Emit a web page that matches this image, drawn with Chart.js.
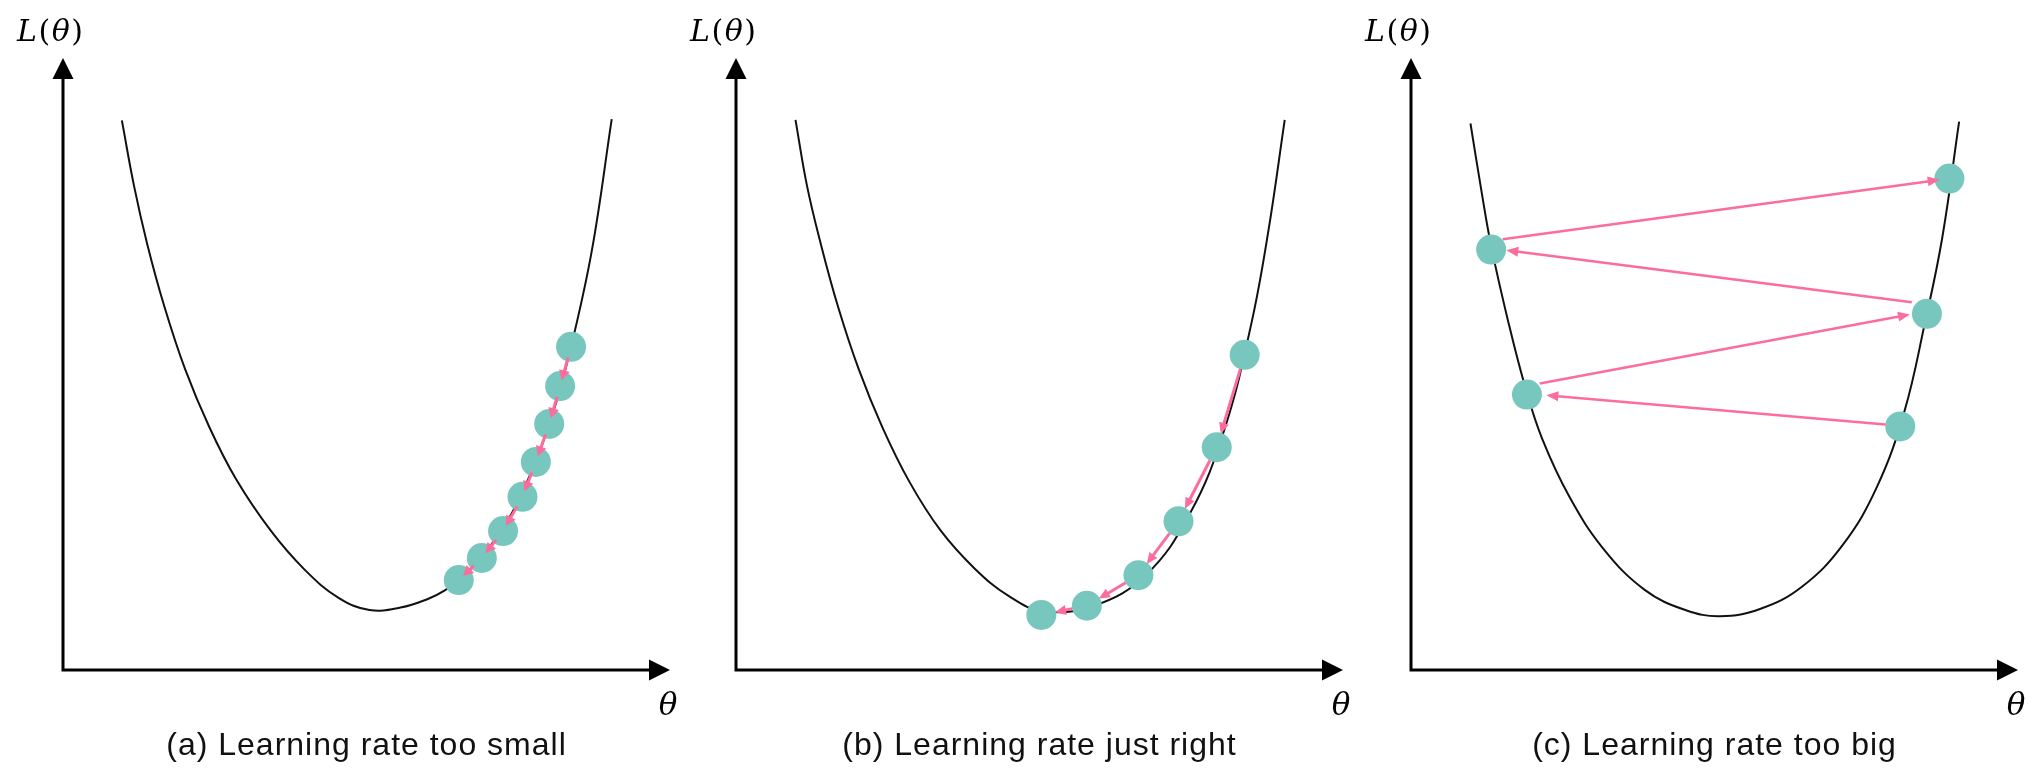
<!DOCTYPE html>
<html>
<head>
<meta charset="utf-8">
<script src="https://cdn.jsdelivr.net/npm/chart.js@4.4.1/dist/chart.umd.min.js"></script>
<style>
  body { margin: 0; background: #fff; width: 2033px; height: 771px; overflow: hidden; position: relative; }
  canvas { position: absolute; top: 0; }
</style>
</head>
<body>
<canvas id="panelA" width="685" height="771" style="left:0px"></canvas>
<canvas id="panelB" width="685" height="771" style="left:673px"></canvas>
<canvas id="panelC" width="685" height="771" style="left:1348px"></canvas>
<script>
// Loss curve samples (θ, L)
const curveThetaA = [0.97, 1.17, 1.39, 1.67, 2.01, 2.41, 2.85, 3.42, 3.98, 4.54, 5.05, 5.56, 6.01, 6.29, 6.62, 6.98, 7.36, 7.70, 8.04, 8.35, 8.71, 9.04];
const curveLossA = [8.98, 7.91, 6.95, 5.94, 4.92, 3.97, 3.12, 2.28, 1.64, 1.18, 0.98, 1.02, 1.16, 1.30, 1.55, 1.95, 2.50, 3.20, 4.10, 5.20, 6.84, 9.00];
const curveThetaB = [0.98, 1.17, 1.40, 1.68, 2.02, 2.41, 2.86, 3.37, 3.93, 4.49, 5.06, 5.90, 6.75, 7.48, 8.04, 8.49, 8.77, 9.04];
const curveLossB = [8.99, 7.91, 6.95, 5.94, 4.92, 3.97, 3.07, 2.28, 1.66, 1.21, 0.96, 1.05, 1.55, 2.56, 3.91, 5.66, 7.17, 8.99];
const curveThetaC = [0.98, 1.15, 1.32, 1.60, 1.88, 2.16, 2.61, 3.17, 3.85, 4.52, 5.09, 5.76, 6.44, 7.11, 7.68, 8.13, 8.46, 8.75, 9.03];
const curveLossC = [8.93, 7.89, 6.93, 5.70, 4.63, 3.78, 2.83, 1.98, 1.31, 0.98, 0.88, 1.00, 1.36, 2.04, 3.00, 4.23, 5.64, 7.05, 8.96];

// Gradient descent steps (in order)
const stepThetaA = [8.37, 8.19, 8.01, 7.79, 7.57, 7.25, 6.90, 6.52];
const stepLossA = [5.28, 4.64, 4.02, 3.40, 2.83, 2.27, 1.83, 1.47];
const stepThetaB = [8.38, 7.92, 7.29, 6.63, 5.78, 5.03];
const stepLossB = [5.15, 3.64, 2.43, 1.55, 1.05, 0.90];
const stepThetaC = [8.06, 1.91, 8.50, 1.32, 8.87];
const stepLossC = [3.98, 4.50, 5.82, 6.87, 8.03];

// Arrows of panel (c): [θ from, L from, θ to, L to]
const jumpArrowsC = [
    [7.82, 4.01, 2.23, 4.49],
    [2.12, 4.68, 8.22, 5.81],
    [8.25, 6.01, 1.57, 6.86],
    [1.51, 7.04, 8.71, 8.01],
];

const captions = ["(a) Learning rate too small", "(b) Learning rate just right", "(c) Learning rate too big"];

const TEAL = "#78c7bf";
const PINK = "#fb6d9c";

const toPoints = (xs, ys) => xs.map((v, i) => ({ x: v, y: ys[i] }));
const chain = (xs, ys) => xs.slice(1).map((v, i) => [xs[i], ys[i], v, ys[i + 1]]);

function drawArrow(ctx, x1, y1, x2, y2, trimStart, trimEnd, head, halfW) {
    const dx = x2 - x1, dy = y2 - y1, len = Math.hypot(dx, dy);
    const ux = dx / len, uy = dy / len;
    const sx = x1 + ux * trimStart, sy = y1 + uy * trimStart;
    const ex = x2 - ux * trimEnd, ey = y2 - uy * trimEnd;
    ctx.beginPath();
    ctx.moveTo(sx, sy);
    ctx.lineTo(ex - ux * head * 0.7, ey - uy * head * 0.7);
    ctx.stroke();
    ctx.beginPath();
    ctx.moveTo(ex, ey);
    ctx.lineTo(ex - ux * head - uy * halfW, ey - uy * head + ux * halfW);
    ctx.lineTo(ex - ux * head + uy * halfW, ey - uy * head - ux * halfW);
    ctx.closePath();
    ctx.fill();
}

// write glyphs one after another, each with its own font
function drawPieces(ctx, pieces, x, y, gap) {
    let cx = x;
    pieces.forEach(([text, font]) => {
        ctx.font = font;
        ctx.fillText(text, cx, y);
        cx += ctx.measureText(text).width + gap;
    });
}

// axes with arrow heads, step arrows and labels
const sketchPlugin = {
    id: "sketch",
    afterDatasetsDraw(chart, args, opts) {
        const { ctx } = chart;
        const x = chart.scales.x, y = chart.scales.y;
        const x0 = x.getPixelForValue(0), y0 = y.getPixelForValue(0);
        const xEnd = x.getPixelForValue(10), yEnd = y.getPixelForValue(10);
        ctx.save();

        // step arrows
        ctx.strokeStyle = PINK;
        ctx.fillStyle = PINK;
        ctx.lineWidth = opts.lineWidth;
        opts.arrows.forEach(([a, b, c, d]) => {
            drawArrow(ctx, x.getPixelForValue(a), y.getPixelForValue(b), x.getPixelForValue(c), y.getPixelForValue(d),
                opts.trimStart, opts.trimEnd, opts.head, opts.halfW);
        });

        // axes
        ctx.strokeStyle = "#000";
        ctx.fillStyle = "#000";
        ctx.lineWidth = 3;
        ctx.beginPath();
        ctx.moveTo(x0 - 1.5, y0);
        ctx.lineTo(xEnd - 15, y0);
        ctx.moveTo(x0, y0);
        ctx.lineTo(x0, yEnd + 15);
        ctx.stroke();
        ctx.beginPath();
        ctx.moveTo(xEnd, y0);
        ctx.lineTo(xEnd - 21, y0 - 10.5);
        ctx.lineTo(xEnd - 21, y0 + 10.5);
        ctx.closePath();
        ctx.moveTo(x0, yEnd);
        ctx.lineTo(x0 - 10.5, yEnd + 21);
        ctx.lineTo(x0 + 10.5, yEnd + 21);
        ctx.closePath();
        ctx.fill();

        // axis titles
        ctx.fillStyle = "#000";
        ctx.textBaseline = "alphabetic";
        ctx.textAlign = "left";
        const it = 'italic 30px "DejaVu Serif"', up = '30px "DejaVu Serif"';
        drawPieces(ctx, [["L", it], ["(", up], ["θ", it], [")", up]], x0 - 46, yEnd - 17, 1.5);
        ctx.font = 'italic 31px "DejaVu Serif"';
        ctx.textAlign = "center";
        ctx.fillText("θ", xEnd - 2, y0 + 45);

        // caption
        ctx.fillStyle = "#111";
        ctx.font = '32px "Liberation Sans"';
        ctx.letterSpacing = "1px";
        ctx.fillText(opts.caption, x.getPixelForValue(5), y0 + 85);
        ctx.restore();
    },
};

function makePanel(id, curveTheta, curveLoss, stepTheta, stepLoss, sketch) {
    return new Chart(document.getElementById(id), {
        type: "scatter",
        plugins: [sketchPlugin],
        data: {
            datasets: [
                {
                    type: "line",
                    data: toPoints(curveTheta, curveLoss),
                    borderColor: "#111",
                    borderWidth: 2,
                    pointRadius: 0,
                    tension: 0.4,
                    fill: false,
                    order: 2,
                },
                {
                    data: toPoints(stepTheta, stepLoss),
                    backgroundColor: TEAL,
                    borderWidth: 0,
                    pointRadius: 15,
                    order: 1,
                },
            ],
        },
        options: {
            responsive: false,
            animation: false,
            events: [],
            layout: { padding: { left: 63, right: 10, top: 58, bottom: 101 } },
            scales: {
                x: { type: "linear", min: 0, max: 10, display: false },
                y: { type: "linear", min: 0, max: 10, display: false },
            },
            plugins: {
                legend: { display: false },
                tooltip: { enabled: false },
                sketch: sketch,
            },
        },
    });
}

makePanel("panelA", curveThetaA, curveLossA, stepThetaA, stepLossA,
    { arrows: chain(stepThetaA, stepLossA), trimStart: 11, trimEnd: 6, head: 10, halfW: 5.5, lineWidth: 3, caption: captions[0] });
makePanel("panelB", curveThetaB, curveLossB, stepThetaB, stepLossB,
    { arrows: chain(stepThetaB, stepLossB), trimStart: 15, trimEnd: 14, head: 11, halfW: 5, lineWidth: 3, caption: captions[1] });
makePanel("panelC", curveThetaC, curveLossC, stepThetaC, stepLossC,
    { arrows: jumpArrowsC, trimStart: 0, trimEnd: 0, head: 12, halfW: 5, lineWidth: 2.5, caption: captions[2] });
</script>
</body>
</html>
